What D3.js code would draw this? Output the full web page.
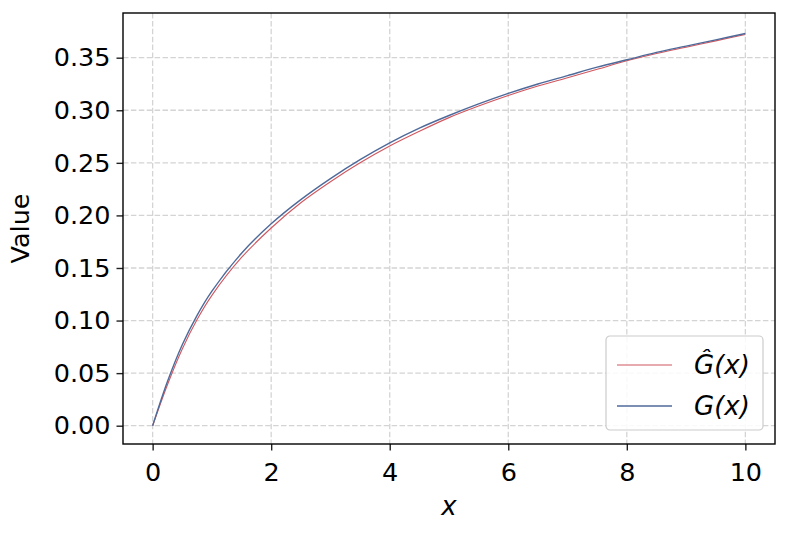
<!DOCTYPE html>
<html>
<head>
<meta charset="utf-8">
<script src="https://cdn.jsdelivr.net/npm/d3@7"></script>
<style>
  body { margin: 0; background: #fff; }
  svg { display: block; }
</style>
</head>
<body>
<div id="chart"></div>
<script>
// sample points
var xs = [0, 0.25, 0.5, 0.75, 1, 1.5, 2, 2.5, 3, 3.5, 4, 4.5, 5, 5.5, 6, 6.5, 7, 7.5, 8, 8.5, 9, 9.5, 10];
var gHat = [0, 0.039, 0.073, 0.101, 0.124, 0.160, 0.188, 0.212, 0.232, 0.250, 0.266, 0.280, 0.293, 0.304, 0.314, 0.323, 0.331, 0.339, 0.347, 0.354, 0.360, 0.366, 0.372];
var gTrue = [0, 0.042, 0.077, 0.105, 0.128, 0.164, 0.192, 0.215, 0.235, 0.253, 0.269, 0.283, 0.295, 0.306, 0.316, 0.325, 0.333, 0.341, 0.348, 0.355, 0.361, 0.367, 0.373];
var xTicks = [0, 2, 4, 6, 8, 10];
var yTicks = [0, 0.05, 0.10, 0.15, 0.20, 0.25, 0.30, 0.35];
var seriesNames = ["Ĝ(x)", "G(x)"];
var seriesColors = ["#d0575f", "#4e6a9a"];

var W = 789, H = 534;
var margin = {top: 13, right: 14, bottom: 90, left: 123},
    width = W - margin.left - margin.right,
    height = H - margin.top - margin.bottom;

var svg = d3.select("#chart").append("svg")
    .attr("width", W)
    .attr("height", H)
    .style("font-family", "'DejaVu Sans', sans-serif");

var g = svg.append("g")
    .attr("transform", "translate(" + margin.left + "," + margin.top + ")");

var x = d3.scaleLinear().domain([-0.5, 10.5]).range([0, width]);
var y = d3.scaleLinear().domain([-0.0174, 0.3925]).range([height, 0]);

// grid
g.append("g").selectAll("line").data(xTicks).enter().append("line")
    .attr("x1", function (d) { return x(d); })
    .attr("x2", function (d) { return x(d); })
    .attr("y1", 0).attr("y2", height)
    .attr("stroke", "#d4d4d4").attr("stroke-width", 1.3)
    .attr("stroke-dasharray", "5.5,2.4");
g.append("g").selectAll("line").data(yTicks).enter().append("line")
    .attr("y1", function (d) { return y(d); })
    .attr("y2", function (d) { return y(d); })
    .attr("x1", 0).attr("x2", width)
    .attr("stroke", "#d4d4d4").attr("stroke-width", 1.3)
    .attr("stroke-dasharray", "5.5,2.4");

// curves
var pts = function (vals) {
  return xs.map(function (d, i) { return [d, vals[i]]; });
};
var line = d3.line()
    .x(function (d) { return x(d[0]); })
    .y(function (d) { return y(d[1]); })
    .curve(d3.curveCatmullRom.alpha(0.5));

g.append("path")
    .datum(pts(gHat))
    .attr("fill", "none")
    .attr("stroke", seriesColors[0])
    .attr("stroke-width", 1.1)
    .attr("d", line);
g.append("path")
    .datum(pts(gTrue))
    .attr("fill", "none")
    .attr("stroke", seriesColors[1])
    .attr("stroke-width", 1.4)
    .attr("d", line);

// axes
var xAxis = d3.axisBottom(x).tickValues(xTicks).tickFormat(d3.format("d"))
    .tickSizeInner(6.5).tickSizeOuter(0).tickPadding(6);
var yAxis = d3.axisLeft(y).tickValues(yTicks).tickFormat(d3.format(".2f"))
    .tickSizeInner(6.5).tickSizeOuter(0).tickPadding(6);

var gx = g.append("g")
    .attr("transform", "translate(0," + height + ")")
    .call(xAxis);
var gy = g.append("g").call(yAxis);

[gx, gy].forEach(function (ax) {
  ax.select(".domain").remove();
  ax.selectAll(".tick line").attr("stroke", "#222").attr("stroke-width", 1.4);
  ax.selectAll(".tick text")
      .attr("fill", "#000")
      .style("font-size", "25.5px")
      .style("font-family", "'DejaVu Sans', sans-serif");
});
gx.selectAll(".tick text").attr("dy", "0.95em");

// frame
g.append("rect")
    .attr("x", 0).attr("y", 0)
    .attr("width", width).attr("height", height)
    .attr("fill", "none")
    .attr("stroke", "#000")
    .attr("stroke-width", 1.4);

// axis labels
g.append("text")
    .attr("x", width / 2)
    .attr("y", height + 71)
    .attr("text-anchor", "middle")
    .style("font-size", "26px")
    .style("font-style", "italic")
    .text("x");

g.append("text")
    .attr("transform", "translate(" + (-94) + "," + (height / 2) + ") rotate(-90)")
    .attr("text-anchor", "middle")
    .style("font-size", "25.5px")
    .text("Value");

// legend
var leg = g.append("g")
    .attr("transform", "translate(" + (606 - margin.left) + "," + (336 - margin.top) + ")");
leg.append("rect")
    .attr("x", 0).attr("y", 0)
    .attr("width", 157).attr("height", 94)
    .attr("rx", 4).attr("ry", 4)
    .attr("fill", "#fff").attr("fill-opacity", 0.85)
    .attr("stroke", "#cccccc").attr("stroke-width", 1.2);

var items = leg.selectAll(".item").data(seriesNames).enter().append("g")
    .attr("class", "item")
    .attr("transform", function (d, i) { return "translate(0," + (29 + i * 41) + ")"; });
items.append("line")
    .attr("x1", 11).attr("x2", 66)
    .attr("y1", 0).attr("y2", 0)
    .attr("stroke", function (d, i) { return seriesColors[i]; })
    .attr("stroke-width", function (d, i) { return i === 0 ? 1.1 : 1.4; });
items.append("text")
    .attr("x", 88)
    .attr("y", 9)
    .style("font-size", "26px")
    .style("font-style", "italic")
    .text(function (d) { return d; });
</script>
</body>
</html>
